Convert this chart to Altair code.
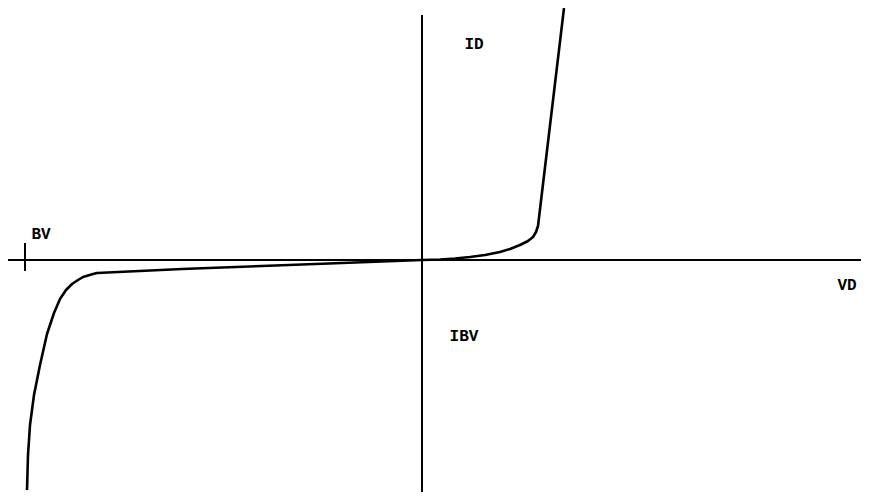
import altair as alt
import pandas as pd

# Diode I-V characteristic (arbitrary units; origin at the axes crossing)
vd_fwd = [0.0, 1.8, 3.3, 4.8, 6.3, 7.8, 8.8, 9.8, 10.6, 11.1, 11.4, 11.6, 14.2]
id_fwd = [0.0, 0.05, 0.15, 0.3, 0.5, 0.8, 1.1, 1.5, 1.9, 2.3, 2.8, 3.4, 25.2]

vd_rev = [0.0, -8.0, -16.0, -24.0, -32.5, -32.9, -33.4, -33.9, -34.4, -35.0,
          -35.6, -36.2, -36.8, -37.5, -38.2, -38.8, -39.2, -39.4, -39.5]
id_rev = [0.0, -0.3, -0.6, -0.9, -1.3, -1.4, -1.55, -1.7, -2.0, -2.4,
          -3.0, -3.9, -5.3, -7.4, -10.5, -13.5, -16.5, -19.5, -23.0]

labels = ["ID", "IBV", "VD", "BV"]
label_x = [5.2, 4.2, 42.5, -38.1]
label_y = [21.6, -7.6, -2.5, 2.6]

x_dom = [-41.4, 43.9]
y_dom = [-23.2, 25.2]

xs = alt.Scale(domain=x_dom, nice=False, zero=False)
ys = alt.Scale(domain=y_dom, nice=False, zero=False)

curve = pd.DataFrame({
    "vd": vd_rev[::-1] + vd_fwd[1:],
    "id": id_rev[::-1] + id_fwd[1:],
})
curve["o"] = range(len(curve))

axes = pd.DataFrame({
    "x": [-41.4, 0.0, -39.7],
    "x2": [44.7, 0.0, -39.7],
    "y": [0.0, 24.5, 1.7],
    "y2": [0.0, -23.7, -1.1],
})

lab = pd.DataFrame({"t": labels, "x": label_x, "y": label_y})

rules = alt.Chart(axes).mark_rule(color="black", strokeWidth=2, clip=True).encode(
    x=alt.X("x:Q", scale=xs, axis=None),
    x2="x2:Q",
    y=alt.Y("y:Q", scale=ys, axis=None),
    y2="y2:Q",
)

line = alt.Chart(curve).mark_line(
    color="black", strokeWidth=2.6, clip=True, strokeJoin="round"
).encode(
    x=alt.X("vd:Q", scale=xs, axis=None),
    y=alt.Y("id:Q", scale=ys, axis=None),
    order="o:Q",
)

text = alt.Chart(lab).mark_text(
    font="Liberation Mono", fontSize=16, fontWeight="bold", color="black"
).encode(
    x=alt.X("x:Q", scale=xs, axis=None),
    y=alt.Y("y:Q", scale=ys, axis=None),
    text="t:N",
)

chart = (rules + line + text).properties(
    width=853, height=484,
    autosize=alt.AutoSizeParams(type="none"),
    padding=0,
    background="white",
).configure_view(stroke=None)

chart.save("out.html", embed_options={"renderer": "svg", "actions": False})
